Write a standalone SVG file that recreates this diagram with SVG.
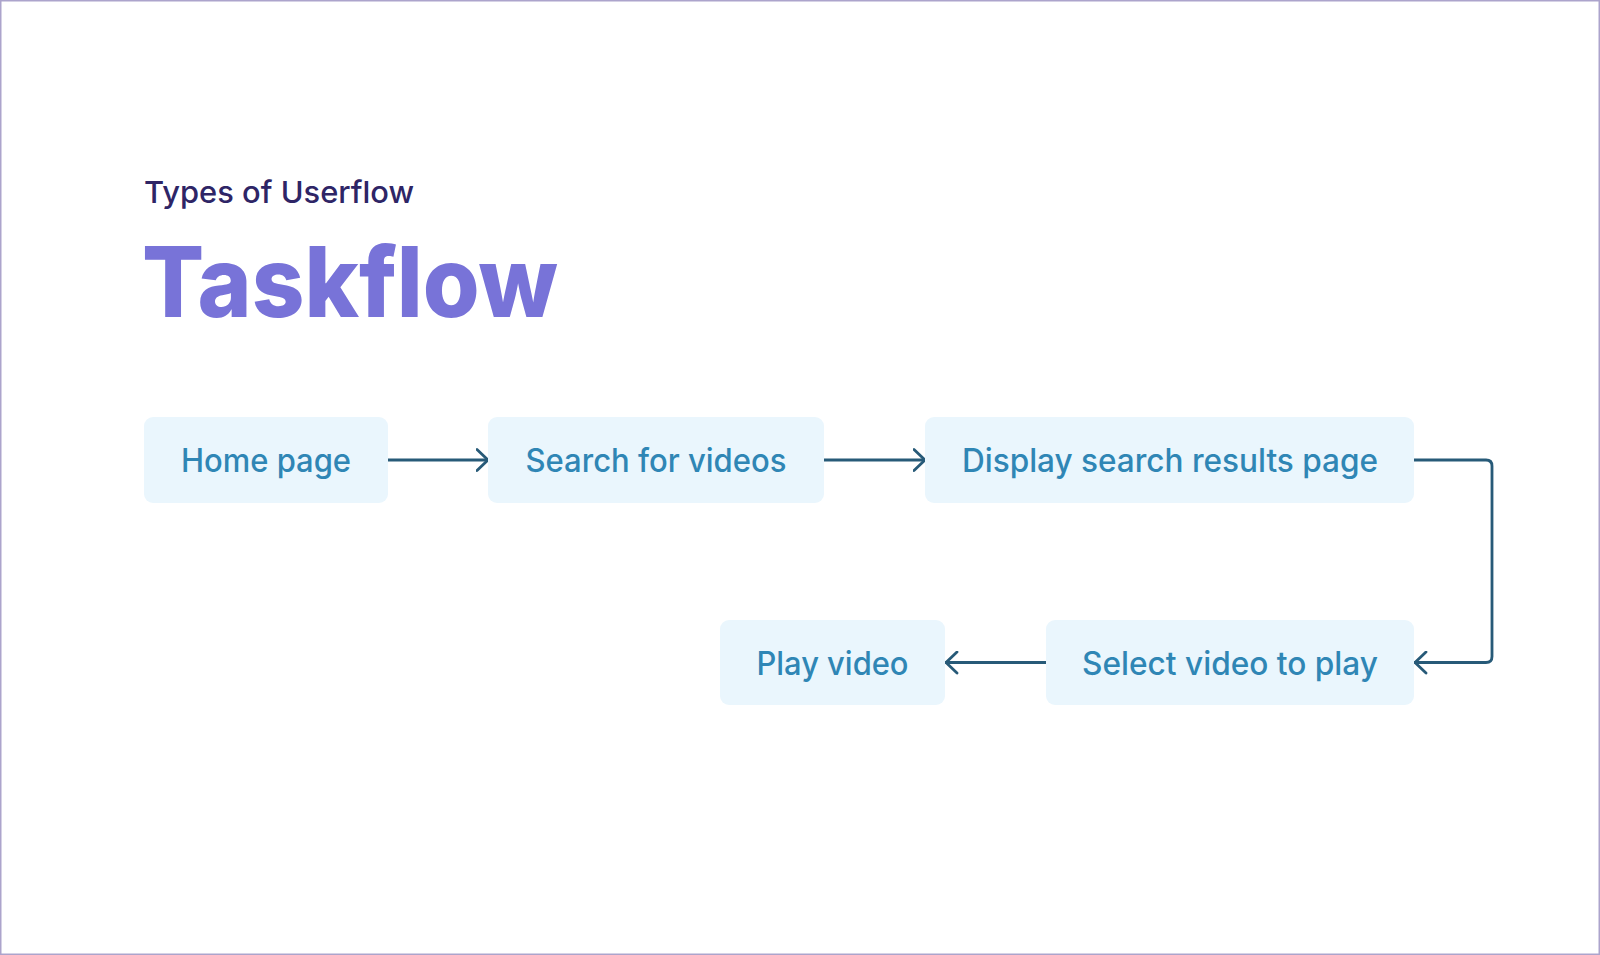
<svg xmlns="http://www.w3.org/2000/svg" width="1600" height="955" viewBox="0 0 1600 955">
<style>
.box{fill:#eaf6fd;}
.lbl{font-family:Inter,"Open Sans","Liberation Sans",sans-serif;font-size:32px;font-weight:500;fill:#2f86b5;text-anchor:middle;}
.conn{fill:none;stroke:#275a78;stroke-width:2.8;stroke-linecap:round;stroke-linejoin:round;}
</style>
<defs>
<marker id="arr" viewBox="0 0 14 24" refX="12.5" refY="12" markerWidth="14" markerHeight="24" markerUnits="userSpaceOnUse" orient="auto">
<path d="M1.5,1.5 L12.5,12 L1.5,22.5" fill="none" stroke="#275a78" stroke-width="2.8" stroke-linecap="round" stroke-linejoin="round"/>
</marker>
</defs>
<rect x="0" y="0" width="1600" height="955" fill="#ffffff"/>
<rect x="0.75" y="0.75" width="1598.5" height="953.5" fill="none" stroke="#aca4cc" stroke-width="1.5"/>
<g id="heading">
<text x="144" y="203" font-family="Inter,'Open Sans','Liberation Sans',sans-serif" font-size="30" font-weight="500" fill="#2e2566" textLength="270" lengthAdjust="spacingAndGlyphs">Types of Userflow</text>
<text x="142" y="317" font-family="Inter,'Open Sans','Liberation Sans',sans-serif" font-size="98" font-weight="800" fill="#7873d8" textLength="416" lengthAdjust="spacingAndGlyphs">Taskflow</text>
</g>
<g id="connectors">
<line class="conn" x1="388" y1="460" x2="488" y2="460" marker-end="url(#arr)"/>
<line class="conn" x1="824" y1="460" x2="925" y2="460" marker-end="url(#arr)"/>
<path class="conn" d="M1414,460 H1486 Q1492,460 1492,466 V656.5 Q1492,662.5 1486,662.5 H1415" marker-end="url(#arr)"/>
<line class="conn" x1="1046" y1="662.5" x2="946" y2="662.5" marker-end="url(#arr)"/>
</g>
<g id="node-home">
<rect class="box" x="144" y="417" width="244" height="86" rx="9"/>
<text class="lbl" x="266" y="472" textLength="170" lengthAdjust="spacingAndGlyphs">Home page</text>
</g>
<g id="node-search">
<rect class="box" x="488" y="417" width="336" height="86" rx="9"/>
<text class="lbl" x="656" y="472" textLength="261" lengthAdjust="spacingAndGlyphs">Search for videos</text>
</g>
<g id="node-display">
<rect class="box" x="925" y="417" width="489" height="86" rx="9"/>
<text class="lbl" x="1170" y="472" textLength="416" lengthAdjust="spacingAndGlyphs">Display search results page</text>
</g>
<g id="node-select">
<rect class="box" x="1046" y="620" width="368" height="85" rx="9"/>
<text class="lbl" x="1230" y="675" textLength="296" lengthAdjust="spacingAndGlyphs">Select video to play</text>
</g>
<g id="node-play">
<rect class="box" x="720" y="620" width="225" height="85" rx="9"/>
<text class="lbl" x="832.5" y="675" textLength="152" lengthAdjust="spacingAndGlyphs">Play video</text>
</g>
</svg>
